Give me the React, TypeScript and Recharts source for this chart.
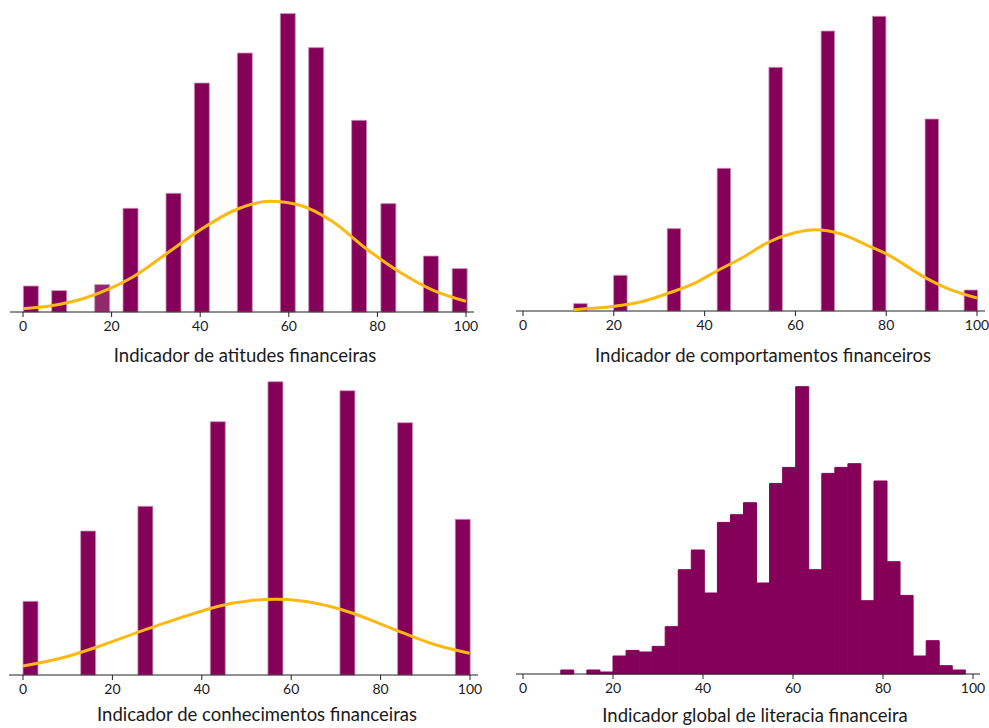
import React from 'react';
import { ComposedChart, Bar, Line, XAxis, YAxis, Cell } from 'recharts';

const FONT = 'Lato, "Open Sans", sans-serif';
const BAR = '#850059';
const FIT = '#FDB913';
const TICKS = [0, 20, 40, 60, 80, 100];

// attitudes
const attX = [1.7, 8.1, 17.8, 24.2, 33.9, 40.3, 50.0, 59.7, 66.1, 75.8, 82.4, 92.0, 98.5];
const attCount = [26, 21.4, 27.4, 103.7, 118.7, 229, 259, 298.4, 264.4, 191.7, 108.4, 56, 43.4];
const attFitX = [0, 6, 13.5, 20.1, 24.8, 32.4, 39.9, 47.4, 55.8, 62.5, 70, 77.5, 85, 92.6, 100];
const attFitY = [3.3, 6, 13.3, 24.3, 35, 58.3, 81.7, 101, 110.7, 106.7, 90, 63.3, 40, 21.7, 10.7];

// behaviours
const behX = [12.6, 21.4, 33.2, 44.2, 55.6, 67.1, 78.4, 90.0, 98.6];
const behCount = [7.4, 35.7, 82.4, 142.7, 243.7, 280, 294.7, 192, 21];
const behFitX = [11.1, 20, 25.8, 31.7, 37.6, 42.7, 48.6, 53.7, 59.6, 64.4, 69.9, 75.8, 80.2, 89, 94.1, 100];
const behFitY = [1.3, 4.7, 9, 17.3, 27.3, 40, 54, 68, 78, 81.3, 77.3, 65.7, 56.7, 32.3, 21.3, 13];

// knowledge
const knoX = [1.7, 14.6, 27.4, 43.6, 56.5, 72.6, 85.5, 98.4];
const knoCount = [73.7, 144, 168.7, 253.3, 293.3, 284.3, 252.3, 155.7];
const knoFitX = [0, 9.7, 17.2, 26.1, 32.1, 39.5, 43.3, 50.7, 56.7, 61.9, 69.4, 73.1, 84.3, 91.7, 99.9];
const knoFitY = [9, 18.3, 29, 43.3, 52.7, 63.3, 68.3, 74.3, 75.7, 74.3, 67.7, 62.7, 43.3, 31, 21.7];

// global (histogram bins, centres)
const gloX = [9.85, 12.75, 15.65, 18.55, 21.45, 24.35, 27.25, 30.15, 33.05, 35.95, 38.85, 41.75, 44.65, 47.55, 50.45,
  53.35, 56.25, 59.15, 62.05, 64.95, 67.85, 70.75, 73.65, 76.55, 79.45, 82.35, 85.25, 88.15, 91.05, 93.95, 96.85];
const gloCount = [4, 0, 4, 2, 18, 23.6, 22, 27.6, 47.3, 104.3, 124, 81, 151.6, 159.3, 171.3, 91, 190.6, 206.6, 287.3,
  104.3, 200.6, 206.6, 210.3, 73.3, 193, 112.3, 78.6, 18, 33.3, 8.3, 4];

type BarRow = { x: number; count: number };
type FitRow = { x: number; fit: number };

const bars = (xs: number[], counts: number[]): BarRow[] => xs.map((x, i) => ({ x, count: counts[i] }));
const fits = (xs: number[], ys: number[]): FitRow[] => xs.map((x, i) => ({ x, fit: ys[i] }));

interface PanelProps {
  left: number; top: number; width: number; height: number;
  margin: { top: number; right: number; bottom: number; left: number };
  padding: { left: number; right: number };
  barRows: BarRow[];
  fitRows?: FitRow[];
  barSize: number;
  hist?: boolean;
  light?: number;
  label: string; labelX: number; labelY: number;
}

const Panel = ({ left, top, width, height, margin, padding, barRows, fitRows, barSize, hist, light, label, labelX, labelY }: PanelProps) => (
  <div style={{ position: 'absolute', left, top, width, height }}>
    <div style={{ position: 'absolute', left: 0, top: 0 }}>
      <ComposedChart width={width} height={height} data={barRows} margin={margin}>
        <XAxis type="number" dataKey="x" domain={[0, 100]} ticks={TICKS} interval={0} padding={padding}
          tickSize={5} tickMargin={4} stroke="#222" tick={{ fill: '#1a1a1a', fontSize: 14, fontFamily: FONT }} />
        <YAxis hide domain={[0, 300]} />
        <Bar dataKey="count" barSize={barSize} fill={BAR} stroke={hist ? BAR : '#c996b6'} strokeWidth={hist ? 1 : 0.8}
          isAnimationActive={false}>
          {barRows.map((r, i) => (
            <Cell key={i} fill={i === light ? '#93296b' : BAR} />
          ))}
        </Bar>
      </ComposedChart>
    </div>
    {fitRows && (
      <div style={{ position: 'absolute', left: 0, top: 0 }}>
        <ComposedChart width={width} height={height} data={fitRows} margin={margin}>
          <XAxis type="number" dataKey="x" domain={[0, 100]} ticks={TICKS} padding={padding}
            axisLine={false} tickLine={false} tick={false} />
          <YAxis hide domain={[0, 300]} />
          <Line dataKey="fit" type="monotone" stroke={FIT} strokeWidth={3} dot={false} isAnimationActive={false} />
        </ComposedChart>
      </div>
    )}
    <div style={{ position: 'absolute', left: labelX - 250, top: labelY, width: 500, textAlign: 'center',
      fontFamily: FONT, fontSize: 18.5, lineHeight: '20px', color: '#1a1a1a', whiteSpace: 'nowrap' }}>{label}</div>
  </div>
);

export default function App() {
  return (
    <div style={{ position: 'absolute', left: 0, top: 0, width: 989, height: 728, background: '#fff', overflow: 'hidden' }}>
      <Panel left={0} top={0} width={495} height={370}
        margin={{ top: 12, right: 21, bottom: 28, left: 10 }} padding={{ left: 13, right: 8 }}
        barRows={bars(attX, attCount)} fitRows={fits(attFitX, attFitY)} barSize={15} light={2}
        label="Indicador de atitudes financeiras" labelX={245} labelY={345} />
      <Panel left={495} top={0} width={494} height={370}
        margin={{ top: 11, right: 4, bottom: 29, left: 21 }} padding={{ left: 7, right: 8 }}
        barRows={bars(behX, behCount)} fitRows={fits(behFitX, behFitY)} barSize={13.5}
        label="Indicador de comportamentos financeiros" labelX={268} labelY={345} />
      <Panel left={0} top={370} width={495} height={358}
        margin={{ top: 5, right: 17, bottom: 23, left: 9 }} padding={{ left: 14, right: 8 }}
        barRows={bars(knoX, knoCount)} fitRows={fits(knoFitX, knoFitY)} barSize={15}
        label="Indicador de conhecimentos financeiras" labelX={257} labelY={334} />
      <Panel left={495} top={370} width={494} height={358}
        margin={{ top: 4, right: 9, bottom: 24, left: 21 }} padding={{ left: 7, right: 7 }}
        barRows={bars(gloX, gloCount)} barSize={13} hist
        label="Indicador global de literacia financeira" labelX={260} labelY={335} />
    </div>
  );
}
